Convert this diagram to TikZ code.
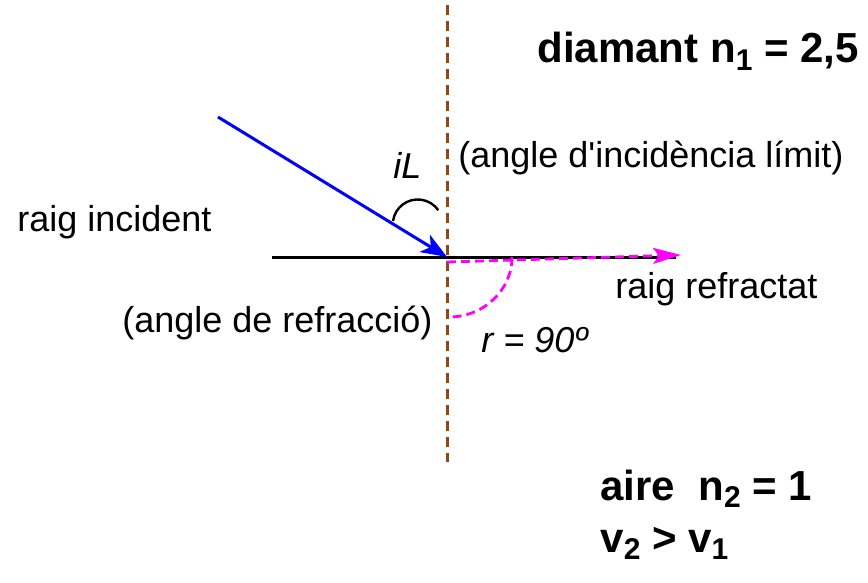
\documentclass[tikz,border=0pt]{standalone}
\usepackage{fontspec}
\setmainfont{Liberation Sans}
\usetikzlibrary{arrows.meta}
\definecolor{brownline}{RGB}{140,75,20}
\definecolor{mag}{RGB}{255,0,255}
\newcommand{\mysb}[1]{\raisebox{-0.35ex}{\fontsize{15}{17}\selectfont\bfseries #1}}
\begin{document}
\begin{tikzpicture}[x=0.5pt,y=-0.5pt,
  lbl/.style={anchor=base west,inner sep=0pt,font=\fontsize{18}{21}\selectfont},
  blbl/.style={anchor=base west,inner sep=0pt,font=\fontsize{21}{25}\selectfont\bfseries},
  normal/.style={brownline,line width=1.5pt,dash pattern=on 5pt off 3pt},
  surface/.style={black,line width=1.5pt},
  incray/.style={blue,line width=1.5pt,-{Stealth[length=13pt,width=10pt,inset=3.5pt]}},
  refray/.style={mag,line width=1.4pt,dash pattern=on 4.5pt off 2.5pt,-{Stealth[length=14pt,width=8pt,inset=3pt,fill=mag]}},
  angarc/.style={black,line width=1.2pt},
  refarc/.style={mag,line width=1.4pt,dash pattern=on 4.5pt off 2.5pt}]
\useasboundingbox (0,0) rectangle (868,583);
% coordinates
\coordinate (ntop) at (447,5);
\coordinate (nbot) at (447,462);
\coordinate (sl) at (272,257);
\coordinate (sr) at (676,257);
\coordinate (O) at (447,257);
\coordinate (src) at (218,117);
\coordinate (rs) at (447,262);
\coordinate (re) at (681,255);
% lines
\draw[surface] (sl) -- (sr);
\draw[normal] (ntop) -- (nbot);
\draw[incray] (src) -- (O);
\draw[refray] (rs) -- (re);
% angle arcs
\draw[angarc] (393,221) arc[start angle=-172,end angle=-35,radius=25];
\draw[refarc] (512,257) arc[start angle=0,end angle=90,x radius=63,y radius=60];
% labels
\node[blbl] (diam) at (537,63) {diamant n\mysb{1} = 2,5};
\node[lbl] (lim) at (458,168) {(angle d\textquotesingle incidència límit)};
\node[lbl] (il) at (393,178) {\itshape iL};
\node[lbl] (inc) at (17,232) {raig incident};
\node[lbl] (refr) at (615,298) {raig refractat};
\node[lbl] (angr) at (122,332) {(angle de refracció)};
\node[lbl] (r90) at (481,352) {\itshape r = 90º};
\node[blbl] (aire) at (600,500) {aire \ n\mysb{2} = 1};
\node[blbl] (vv) at (600,552) {v\mysb{2} > v\mysb{1}};
\end{tikzpicture}
\end{document}
